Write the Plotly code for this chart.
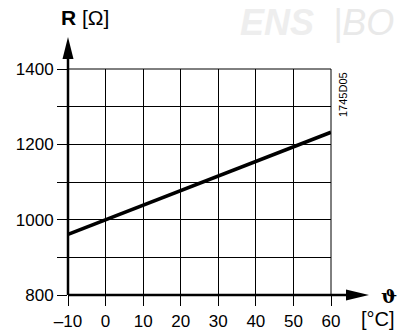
import plotly.graph_objects as go

temps = [-10, 0, 10, 20, 30, 40, 50, 60]
resist = [961, 1000, 1039, 1078, 1117, 1155, 1194, 1232]
x_ticks = [-10, 0, 10, 20, 30, 40, 50, 60]
x_labels = ["\u201310", "0", "10", "20", "30", "40", "50", "60"]
y_ticks = [800, 900, 1000, 1100, 1200, 1300, 1400]
y_labels = ["800", "", "1000", "", "1200", "", "1400"]

FONT = "Liberation Sans, Arial, sans-serif"
W, H = 398, 332
L, R, T, B = 68, 67, 69, 37
PW, PH = W - L - R, H - T - B

def px(x):
    return (x - L) / PW

def py(y):
    return (H - B - y) / PH

fig = go.Figure()
fig.add_trace(go.Scatter(x=temps, y=resist, mode="lines",
                         line=dict(color="black", width=3.6), hoverinfo="skip"))

fig.update_xaxes(range=[-10, 60], tickvals=x_ticks, ticktext=x_labels,
                 showgrid=True, gridcolor="black", gridwidth=1,
                 ticks="outside", ticklen=10, tickwidth=1, tickcolor="black",
                 ticklabelstandoff=1, automargin=False,
                 zeroline=False, showline=False,
                 tickfont=dict(family=FONT, size=17, color="black"))
fig.update_yaxes(range=[800, 1400], tickvals=y_ticks, ticktext=y_labels,
                 showgrid=True, gridcolor="black", gridwidth=1,
                 ticks="outside", ticklen=10, tickwidth=1, tickcolor="black",
                 automargin=False,
                 zeroline=False, showline=False,
                 tickfont=dict(family=FONT, size=17, color="black"))

shapes = [
    # top and right border grid lines
    dict(type="line", xref="paper", yref="paper", x0=0, x1=1, y0=1, y1=1,
         line=dict(color="black", width=1)),
    dict(type="line", xref="paper", yref="paper", x0=1, x1=1, y0=0, y1=1,
         line=dict(color="black", width=1)),
    # x axis with arrow
    dict(type="line", xref="paper", yref="paper", x0=0, x1=px(350), y0=0, y1=0,
         line=dict(color="black", width=2.5)),
    dict(type="path", xref="paper", yref="paper",
         path=f"M {px(346)} {py(289.5)} L {px(369)} {py(295)} L {px(346)} {py(300.5)} Z",
         fillcolor="black", line=dict(color="black", width=0)),
    # y axis with arrow
    dict(type="line", xref="paper", yref="paper", x0=0, x1=0, y0=0, y1=py(56),
         line=dict(color="black", width=2.5)),
    dict(type="path", xref="paper", yref="paper",
         path=f"M {px(62.5)} {py(59)} L {px(68)} {py(37)} L {px(73.5)} {py(59)} Z",
         fillcolor="black", line=dict(color="black", width=0)),
]

annotations = [
    # faint watermark
    dict(xref="paper", yref="paper", x=px(316), y=py(0), xanchor="right", yanchor="top",
         text="<b><i>ENS</i></b>", showarrow=False,
         font=dict(family=FONT, size=36, color="#eeeeee")),
    dict(xref="paper", yref="paper", x=px(396), y=py(0), xanchor="right", yanchor="top",
         text="<i>|BO</i>", showarrow=False,
         font=dict(family=FONT, size=36, color="#e9e9e9")),
    # y axis title
    dict(xref="paper", yref="paper", x=px(59), y=py(31), xanchor="left", yanchor="bottom",
         text="<b>R</b> [\u03a9]", showarrow=False,
         font=dict(family=FONT, size=21, color="black")),
    # x axis symbol and unit
    dict(xref="paper", yref="paper", x=px(389), y=py(296), xanchor="center", yanchor="middle",
         text="<b>\u03d1</b>", showarrow=False,
         font=dict(family="DejaVu Serif, serif", size=19, color="black")),
    dict(xref="paper", yref="paper", x=px(378), y=py(332), xanchor="center", yanchor="bottom",
         text="[\u00b0C]", showarrow=False,
         font=dict(family=FONT, size=20, color="black")),
    # figure code
    dict(xref="paper", yref="paper", x=px(343), y=py(95), xanchor="center", yanchor="middle",
         text="1745D05", textangle=-90, showarrow=False,
         font=dict(family=FONT, size=11, color="black")),
]

fig.update_layout(width=W, height=H, margin=dict(l=L, r=R, t=T, b=B, pad=0),
                  paper_bgcolor="white", plot_bgcolor="white",
                  showlegend=False, shapes=shapes, annotations=annotations)

fig.write_html("out.html")
